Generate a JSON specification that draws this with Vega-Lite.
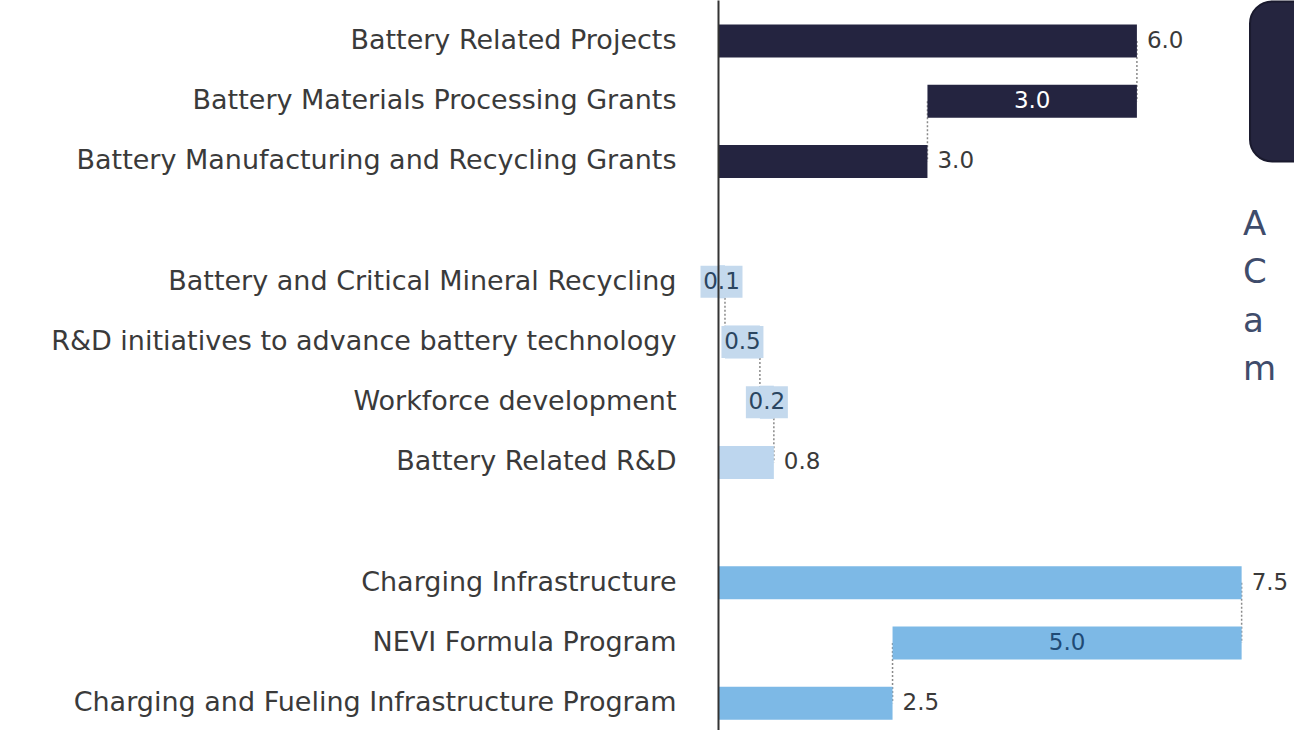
{
  "$schema": "https://vega.github.io/schema/vega-lite/v6.json",
  "autosize": {"type": "none"},
  "padding": {"left": 718, "top": 0, "right": 0, "bottom": 0},
  "width": 576,
  "height": 730,
  "background": "white",
  "config": {"view": {"stroke": null}},
  "datasets": {
    "bars": [
      {"cat": "Battery Related Projects", "start": 0, "end": 6, "label": "6.0", "grp": "dark", "pos": "out"},
      {"cat": "Battery Materials Processing Grants", "start": 3, "end": 6, "label": "3.0", "grp": "dark", "pos": "in"},
      {"cat": "Battery Manufacturing and Recycling Grants", "start": 0, "end": 3, "label": "3.0", "grp": "dark", "pos": "out"},
      {"cat": "Battery and Critical Mineral Recycling", "start": 0, "end": 0.1, "label": "0.1", "grp": "light", "pos": "box"},
      {"cat": "R&D initiatives to advance battery technology", "start": 0.1, "end": 0.6, "label": "0.5", "grp": "light", "pos": "box"},
      {"cat": "Workforce development", "start": 0.6, "end": 0.8, "label": "0.2", "grp": "light", "pos": "box"},
      {"cat": "Battery Related R&D", "start": 0, "end": 0.8, "label": "0.8", "grp": "light", "pos": "out"},
      {"cat": "Charging Infrastructure", "start": 0, "end": 7.5, "label": "7.5", "grp": "blue", "pos": "out"},
      {"cat": "NEVI Formula Program", "start": 2.5, "end": 7.5, "label": "5.0", "grp": "blue", "pos": "in"},
      {"cat": "Charging and Fueling Infrastructure Program", "start": 0, "end": 2.5, "label": "2.5", "grp": "blue", "pos": "out"}
    ],
    "links": [
      {"from": "Battery Related Projects", "to": "Battery Materials Processing Grants", "x": 6},
      {"from": "Battery Materials Processing Grants", "to": "Battery Manufacturing and Recycling Grants", "x": 3},
      {"from": "Battery and Critical Mineral Recycling", "to": "R&D initiatives to advance battery technology", "x": 0.1},
      {"from": "R&D initiatives to advance battery technology", "to": "Workforce development", "x": 0.6},
      {"from": "Workforce development", "to": "Battery Related R&D", "x": 0.8},
      {"from": "Charging Infrastructure", "to": "NEVI Formula Program", "x": 7.5},
      {"from": "NEVI Formula Program", "to": "Charging and Fueling Infrastructure Program", "x": 2.5}
    ],
    "note": [
      {"r1": "Battery Related Projects", "r2": "Battery Manufacturing and Recycling Grants", "x1": 7.62, "x2": 9.5, "cat": " ", "tx": 7.52, "txt": "A\nC\na\nm"}
    ]
  },
  "encoding": {
    "y": {
      "field": "cat", "type": "nominal",
      "scale": {
        "domain": ["Battery Related Projects", "Battery Materials Processing Grants", "Battery Manufacturing and Recycling Grants", " ", "Battery and Critical Mineral Recycling", "R&D initiatives to advance battery technology", "Workforce development", "Battery Related R&D", "  ", "Charging Infrastructure", "NEVI Formula Program", "Charging and Fueling Infrastructure Program"],
        "paddingInner": 0.452, "paddingOuter": 0.289, "align": 0.704
      },
      "axis": {
        "title": null, "ticks": false, "tickSize": 0, "labelPadding": 42,
        "labelFont": "DejaVu Sans", "labelFontSize": 27, "labelColor": "#3a3a3a", "labelLimit": 800,
        "domainColor": "#333333", "domainWidth": 2, "grid": false
      }
    }
  },
  "layer": [
    {
      "data": {"name": "note"},
      "mark": {"type": "rect", "color": "#25253f", "cornerRadius": 22, "stroke": "#1a1a2e", "strokeWidth": 2},
      "encoding": {
        "y": {"field": "r1", "type": "nominal", "bandPosition": -0.7},
        "y2": {"field": "r2", "bandPosition": 0.5},
        "x": {"field": "x1", "type": "quantitative", "scale": {"domain": [0, 8.25], "nice": false, "zero": true}, "axis": null},
        "x2": {"field": "x2"}
      }
    },
    {
      "data": {"name": "note"},
      "mark": {"type": "text", "align": "left", "baseline": "alphabetic", "lineBreak": "\n", "lineHeight": 48.5, "font": "DejaVu Sans", "fontSize": 34, "color": "#3f4c6b", "dy": 13},
      "encoding": {
        "y": {"field": "cat", "type": "nominal"},
        "x": {"field": "tx", "type": "quantitative"},
        "text": {"field": "txt"}
      }
    },
    {
      "data": {"name": "links"},
      "mark": {"type": "rule", "color": "#8a8a8a", "strokeWidth": 1.5, "strokeDash": [2, 2]},
      "encoding": {
        "y": {"field": "from", "type": "nominal"},
        "y2": {"field": "to"},
        "x": {"field": "x", "type": "quantitative"}
      }
    },
    {
      "data": {"name": "bars"},
      "mark": {"type": "bar"},
      "encoding": {
        "x": {"field": "start", "type": "quantitative"},
        "x2": {"field": "end"},
        "color": {"field": "grp", "type": "nominal", "scale": {"domain": ["dark", "light", "blue"], "range": ["#242440", "#bdd6ee", "#7db9e6"]}, "legend": null}
      }
    },
    {
      "data": {"name": "bars"},
      "transform": [{"filter": "datum.pos === 'box'"}, {"calculate": "(datum.start + datum.end) / 2", "as": "mid"}],
      "mark": {"type": "point", "shape": "M-1,-0.76H1V0.76H-1Z", "size": 1764, "filled": true, "opacity": 1, "color": "#c4d9ed"},
      "encoding": {"x": {"field": "mid", "type": "quantitative"}}
    },
    {
      "data": {"name": "bars"},
      "transform": [{"filter": "datum.pos === 'box'"}, {"calculate": "(datum.start + datum.end) / 2", "as": "mid"}],
      "mark": {"type": "text", "align": "center", "baseline": "middle", "font": "DejaVu Sans", "fontSize": 23, "color": "#2a4560"},
      "encoding": {"x": {"field": "mid", "type": "quantitative"}, "text": {"field": "label"}}
    },
    {
      "data": {"name": "bars"},
      "transform": [{"filter": "datum.pos === 'in'"}, {"calculate": "(datum.start + datum.end) / 2", "as": "mid"}],
      "mark": {"type": "text", "align": "center", "baseline": "middle", "font": "DejaVu Sans", "fontSize": 23},
      "encoding": {
        "x": {"field": "mid", "type": "quantitative"},
        "text": {"field": "label"},
        "color": {"condition": {"test": "datum.grp === 'dark'", "value": "#ffffff"}, "value": "#1f4a75"}
      }
    },
    {
      "data": {"name": "bars"},
      "transform": [{"filter": "datum.pos === 'out'"}],
      "mark": {"type": "text", "align": "left", "baseline": "middle", "dx": 10, "font": "DejaVu Sans", "fontSize": 23, "color": "#3a3a3a"},
      "encoding": {"x": {"field": "end", "type": "quantitative"}, "text": {"field": "label"}}
    }
  ]
}
